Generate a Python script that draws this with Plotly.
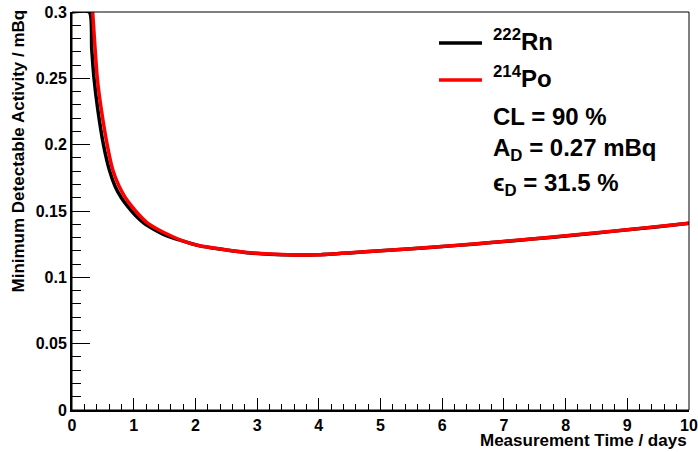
import plotly.graph_objects as go

# ---- data ----
rn_t = [0.0, 0.28, 0.32, 0.357, 0.42, 0.51, 0.605, 0.70, 0.80, 0.91, 1.03, 1.16, 1.33, 1.5, 1.75, 2.07, 2.4,
        2.8, 3.2, 3.6, 4.0, 4.5, 5.0, 5.5, 6.0, 6.5, 7.0, 7.5, 8.0, 8.5, 9.0, 9.5, 10.0]
rn_mda = [0.3, 0.3, 0.272, 0.25, 0.226, 0.2, 0.181, 0.1685, 0.160, 0.153, 0.1465, 0.141, 0.136, 0.132, 0.128,
          0.1237, 0.1213, 0.1188, 0.1174, 0.1168, 0.1170, 0.1184, 0.1200, 0.1215, 0.1232, 0.1250, 0.1270, 0.1290,
          0.1312, 0.1335, 0.1358, 0.1382, 0.1407]

po_t = [0.335, 0.37, 0.41, 0.48, 0.57, 0.66, 0.76, 0.86, 0.97, 1.09, 1.21, 1.38, 1.55, 1.75, 2.07, 2.4,
        2.8, 3.2, 3.6, 4.0, 4.5, 5.0, 5.5, 6.0, 6.5, 7.0, 7.5, 8.0, 8.5, 9.0, 9.5, 10.0]
po_mda = [0.3, 0.275, 0.25, 0.225, 0.2, 0.181, 0.169, 0.1605, 0.1535, 0.147, 0.1415, 0.1365, 0.1325, 0.1283,
          0.1238, 0.1214, 0.1189, 0.1175, 0.1169, 0.1171, 0.1185, 0.1201, 0.1216, 0.1233, 0.1251, 0.1271, 0.1291,
          0.1313, 0.1336, 0.1359, 0.1383, 0.1408]

x_ticks = list(range(0, 11))
y_ticks = [0, 0.05, 0.1, 0.15, 0.2, 0.25, 0.3]
y_ticktext = ["0", "0.05", "0.1", "0.15", "0.2", "0.25", "0.3"]

legend_labels = ["<sup>222</sup>Rn", "<sup>214</sup>Po"]
info_lines = ["CL = 90 %", "A<sub>D</sub> = 0.27 mBq", "\u03f5<sub>D</sub> = 31.5 %"]

# ---- layout geometry ----
W, H = 698, 452
L, R, T, B = 72, 9, 12, 42
PW, PH = W - L - R, H - T - B

def px(xp):
    return (xp - L) / PW

def py(yp):
    return (H - B - yp) / PH

FONT = "Liberation Sans, Arial, Helvetica, sans-serif"

fig = go.Figure()
fig.add_trace(go.Scatter(x=rn_t, y=rn_mda, mode="lines", line=dict(color="black", width=3.5, shape="spline", smoothing=0.6),
                         name="222Rn", showlegend=False))
fig.add_trace(go.Scatter(x=po_t, y=po_mda, mode="lines", line=dict(color="#ff0000", width=3.5, shape="spline", smoothing=0.6),
                         name="214Po", showlegend=False))

axis_common = dict(showline=True, linecolor="black", linewidth=2, showgrid=False, zeroline=False,
                   ticks="inside", tickcolor="black", tickwidth=1, automargin=False,
                   tickfont=dict(family=FONT, size=16, color="black", weight="bold"))

fig.update_xaxes(range=[0, 10], tickvals=x_ticks, ticktext=[str(v) for v in x_ticks], ticklen=12,
                 minor=dict(dtick=0.2, ticks="inside", ticklen=6, tickcolor="black", tickwidth=1, showgrid=False),
                 **axis_common)
fig.update_yaxes(range=[0, 0.3], tickvals=y_ticks, ticktext=y_ticktext, ticklen=18,
                 minor=dict(dtick=0.01, ticks="inside", ticklen=9, tickcolor="black", tickwidth=1, showgrid=False),
                 **axis_common)

shapes = [
    dict(type="rect", xref="paper", yref="paper", x0=0, x1=1, y0=0, y1=1,
         line=dict(color="black", width=1), layer="above"),
]
legend_y = [43, 80]
legend_colors = ["black", "#ff0000"]
for yy, cc in zip(legend_y, legend_colors):
    shapes.append(dict(type="line", xref="paper", yref="paper", x0=px(439), x1=px(482), y0=py(yy), y1=py(yy),
                       line=dict(color=cc, width=3.5)))

annotations = []
for yy, txt in zip(legend_y, legend_labels):
    annotations.append(dict(xref="paper", yref="paper", x=px(491), y=py(yy - 3), text=txt, showarrow=False,
                            xanchor="left", yanchor="middle", font=dict(family=FONT, size=24, color="black", weight="bold")))
for yy, txt in zip([117, 149, 184], info_lines):
    annotations.append(dict(xref="paper", yref="paper", x=px(491), y=py(yy), text=txt, showarrow=False,
                            xanchor="left", yanchor="middle", font=dict(family=FONT, size=24, color="black", weight="bold")))

annotations.append(dict(xref="paper", yref="paper", x=px(689), y=py(440), text="Measurement Time / days", showarrow=False,
                        xanchor="right", yanchor="middle", font=dict(family=FONT, size=17, color="black", weight="bold")))
annotations.append(dict(xref="paper", yref="paper", x=px(18), y=py(8), text="Minimum Detectable Activity / mBq",
                        showarrow=False, textangle=-90, xanchor="center", yanchor="top",
                        font=dict(family=FONT, size=17, color="black", weight="bold")))

fig.update_layout(width=W, height=H, margin=dict(l=L, r=R, t=T, b=B, autoexpand=False),
                  paper_bgcolor="white", plot_bgcolor="white", showlegend=False,
                  shapes=shapes, annotations=annotations)

fig.write_html("out.html")
